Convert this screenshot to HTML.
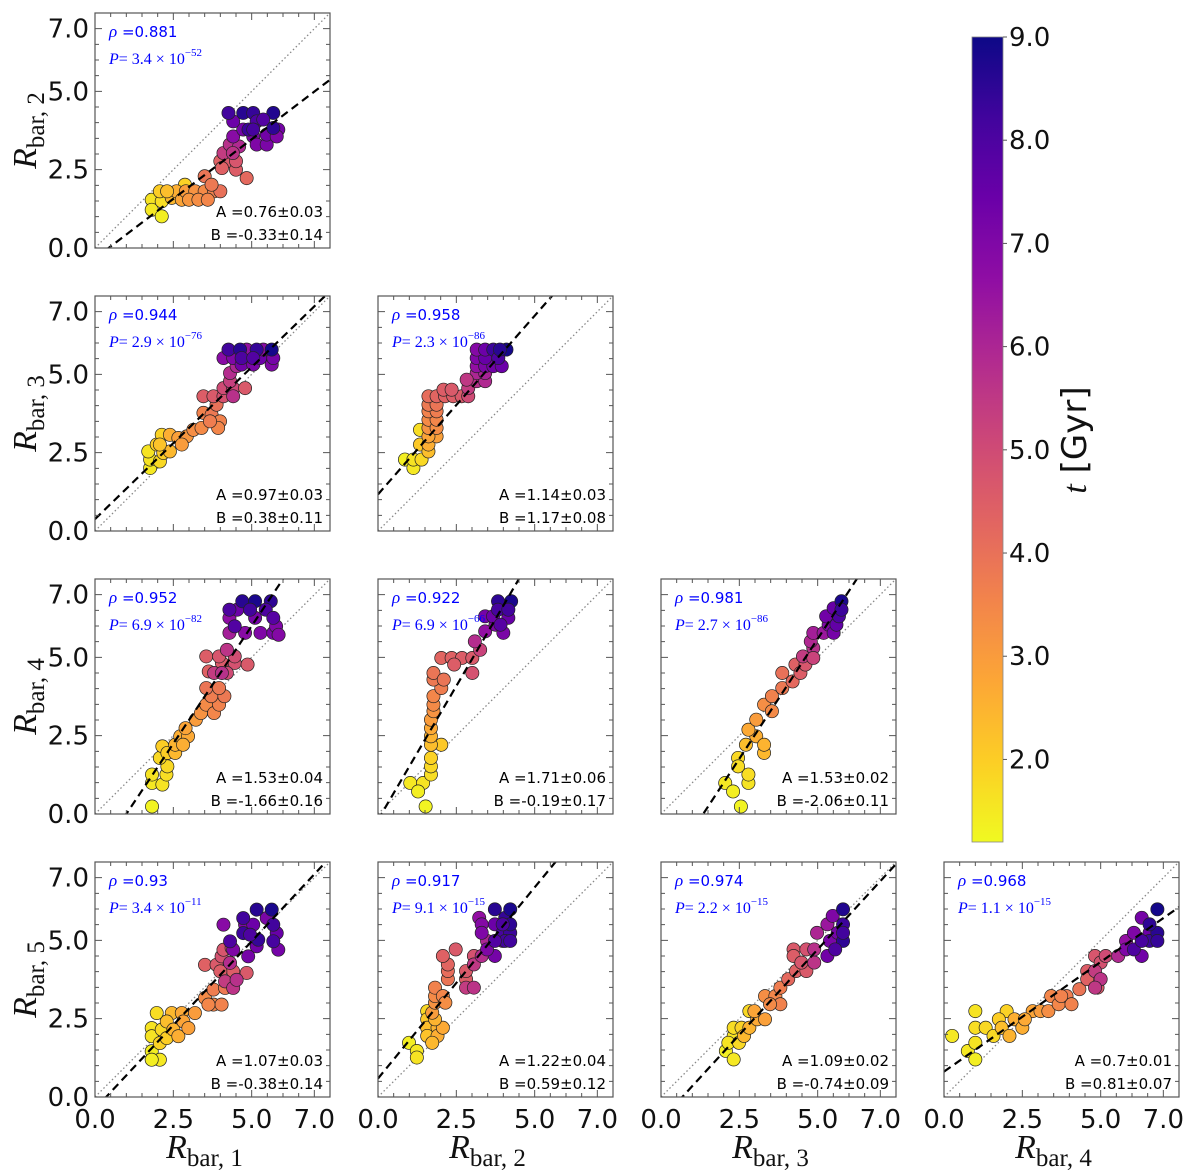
<!DOCTYPE html>
<html><head><meta charset="utf-8"><style>
html,body{margin:0;padding:0;background:#fff;}
svg{display:block;}
</style></head><body>
<svg id="fig" width="1200" height="1174" viewBox="0 0 1200 1174" xmlns="http://www.w3.org/2000/svg"></svg>
<script>
// ---- data: each point is [x, y, t(Gyr)] ----
const p_r1_r2 = [[1.81,1.54,1.6],[1.81,1.22,1.5],[2.13,1.01,1.4],[2.13,1.49,1.7],[2.07,1.81,2.0],[2.45,1.6,2.4],[2.87,2.02,1.9],[2.6,1.81,2.6],[2.77,1.54,2.8],
[2.3,1.81,2.3],[2.9,1.81,3.0],[3.2,1.81,3.2],[3.5,1.81,3.4],[3.8,1.81,3.6],[4.0,1.81,4.0],[3.0,1.54,3.1],[3.3,1.54,3.3],[3.6,1.54,3.5],
[3.5,2.29,3.9],[3.72,2.02,3.8],[4.0,2.77,4.4],[4.3,2.77,4.6],[4.05,2.55,4.4],[4.5,2.5,4.5],[4.84,2.23,4.2],[4.5,2.77,4.7],
[4.1,3.03,5.4],[4.3,3.3,5.7],[4.6,3.24,5.9],[4.4,3.03,5.6],
[4.41,3.56,6.8],[4.73,3.78,7.2],[5.05,3.56,7.1],[5.16,3.3,7.0],[5.48,3.3,7.1],[5.48,3.62,7.3],[5.85,3.78,7.2],[5.8,3.56,7.0],[4.41,4.04,7.4],
[4.26,4.31,8.2],[4.73,4.31,8.6],[5.05,4.31,8.4],[5.69,4.31,8.7],[5.16,4.04,8.0],[4.9,3.78,8.3],[5.37,4.1,7.9],[5.69,3.83,8.5],[5.05,3.78,8.1]];
const p_r1_r3 = [[1.76,2.01,1.5],[1.76,2.28,1.6],[1.70,2.54,1.6],[2.07,2.22,1.8],[1.97,2.76,2.0],[2.13,3.07,1.9],[2.18,2.49,2.0],[2.39,2.54,2.4],[2.07,2.76,2.2],
[2.39,3.07,2.6],[2.66,2.97,2.9],[2.93,3.02,3.1],[2.77,2.76,3.0],[3.14,3.23,3.3],[3.40,3.29,3.4],[3.46,3.77,3.6],[3.72,3.71,3.8],[3.99,3.50,3.6],[3.93,3.29,3.5],[3.67,3.50,3.7],[3.88,4.03,4.0],
[3.46,4.30,4.5],[3.78,4.30,4.6],[4.1,4.30,4.8],[4.1,4.56,5.0],[4.41,4.56,5.1],[4.79,4.56,4.6],[4.31,4.78,5.3],
[4.31,5.04,5.8],[4.52,5.26,6.0],[4.41,4.30,5.7],
[4.1,5.52,6.8],[4.41,5.52,7.0],[4.68,5.31,7.3],[5.05,5.31,7.1],[5.64,5.31,7.0],[5.69,5.52,7.2],[5.27,5.52,7.4],[4.84,5.79,6.6],[5.37,5.79,6.8],
[4.26,5.79,8.2],[4.63,5.79,8.6],[5.16,5.79,8.4],[5.64,5.79,8.9],[4.68,5.52,8.0],[5.05,5.52,7.9]];
const p_r2_r3 = [[0.86,2.28,1.4],[1.13,2.01,1.5],[1.13,2.28,1.6],[1.39,2.28,1.8],[1.34,3.23,1.7],
[1.34,2.76,2.1],[1.61,2.54,2.3],[1.61,2.76,2.6],[1.87,3.02,2.9],[1.61,3.02,2.8],
[1.61,3.29,3.2],[1.61,3.55,3.4],[1.87,3.29,3.3],[1.87,3.55,3.5],[1.61,3.82,3.6],[1.87,3.82,3.7],[1.61,4.03,3.8],[1.87,4.03,3.9],
[1.61,4.30,4.1],[1.87,4.30,4.3],[2.14,4.30,4.4],[2.40,4.30,4.5],[2.67,4.30,4.6],[2.09,4.51,4.5],[2.35,4.51,4.6],[2.88,4.30,5.0],
[2.88,4.56,5.4],[3.15,4.78,5.7],[3.42,4.78,5.9],[3.15,5.04,6.0],[3.42,5.04,6.1],[2.83,4.83,5.5],
[3.15,5.26,6.6],[3.15,5.52,7.0],[3.42,5.26,7.1],[3.68,5.26,7.3],[3.95,5.26,7.4],[3.42,5.52,7.5],[3.15,5.79,6.9],[3.42,5.79,7.4],
[3.68,5.79,8.3],[3.84,5.52,8.0],[4.1,5.79,8.9],[3.89,5.79,8.6]];
const p_r1_r4 = [[1.82,0.24,1.3],[1.82,0.99,1.5],[2.15,0.94,1.6],[1.82,1.26,1.6],[2.28,1.26,1.7],[2.31,1.52,1.8],[2.07,1.79,1.8],[2.15,2.16,2.0],[2.31,1.95,2.0],
[2.56,1.95,2.4],[2.56,2.21,2.5],[2.72,2.48,2.6],[2.97,2.48,2.7],[2.81,2.21,2.6],[2.89,2.74,2.8],[3.22,3.01,3.0],[3.38,3.22,3.2],
[3.55,3.49,3.4],[3.80,3.22,3.5],[3.96,3.49,3.6],[3.71,3.76,3.7],[4.13,3.76,3.8],[3.55,4.02,3.9],[3.96,4.02,3.8],
[3.63,4.55,4.4],[4.05,4.82,4.6],[4.46,4.82,4.8],[3.55,5.03,4.5],[3.96,5.03,4.7],[4.46,5.03,4.9],[4.87,4.77,4.6],[4.21,4.50,5.0],
[3.80,4.50,5.4],[4.21,5.24,5.6],[4.05,4.50,5.7],
[4.29,5.78,6.2],[4.79,5.78,6.8],[5.28,5.78,7.0],[5.69,5.78,7.1],[4.29,6.26,6.7],[5.11,6.26,7.2],[5.78,5.99,7.0],[5.86,5.72,6.9],[4.54,6.52,7.4],
[4.29,6.52,8.0],[4.70,6.79,8.6],[5.11,6.79,8.8],[5.61,6.79,8.5],[4.46,5.99,7.9],[4.95,6.52,8.2],[5.45,6.52,8.0],[5.69,6.26,7.8]];
const p_r2_r4 = [[1.52,0.24,1.3],[1.03,0.99,1.5],[1.44,0.99,1.6],[1.28,0.72,1.4],[1.69,1.26,1.7],[1.69,1.52,1.8],[1.69,1.79,1.9],[2.02,2.21,2.1],
[1.69,2.21,2.3],[1.69,2.48,2.5],[1.69,2.74,2.7],[1.69,3.01,3.0],
[1.77,3.28,3.2],[1.77,3.49,3.4],[1.77,3.76,3.5],[2.02,4.02,3.7],[1.77,4.29,3.8],[1.77,4.50,3.9],[2.10,4.29,3.9],
[2.02,4.98,4.3],[2.35,4.98,4.4],[2.68,4.98,4.5],[3.01,4.98,4.6],[2.43,4.77,4.5],[3.01,4.50,4.8],[3.26,5.24,5.2],
[3.09,5.51,5.8],[3.42,5.83,6.6],[3.75,6.04,7.0],[3.42,6.31,7.2],[4.0,5.78,7.1],[3.67,6.31,7.4],[4.16,6.26,7.5],
[3.83,6.79,8.5],[4.25,6.79,8.8],[3.83,6.52,8.1],[4.16,6.52,8.2],[3.91,6.04,7.8]];
const p_r3_r4 = [[2.55,0.24,1.3],[2.05,0.99,1.5],[2.30,0.72,1.4],[2.79,0.99,1.6],[2.79,1.26,1.7],[2.46,1.79,1.8],[2.46,1.52,1.7],
[2.71,2.21,2.3],[3.04,2.48,2.6],[3.29,1.95,2.4],[3.29,2.21,2.5],[2.79,2.69,2.7],
[3.04,3.01,3.0],[3.29,3.49,3.3],[3.54,3.28,3.4],[3.54,3.76,3.6],[3.87,4.02,3.8],[3.87,4.50,4.0],
[4.29,4.77,4.4],[4.20,4.23,4.2],[4.45,4.50,4.5],[4.61,4.77,4.7],
[4.53,5.03,5.4],[4.86,5.30,5.7],[4.78,5.51,5.9],[4.86,5.78,6.2],[5.19,5.78,6.4],[4.86,4.98,5.2],
[5.35,6.04,7.0],[5.51,5.78,7.2],[5.27,6.31,7.3],[5.51,6.57,7.5],[5.60,6.04,7.6],
[5.76,6.79,8.8],[5.68,6.31,8.0],[5.76,6.52,8.3]];
const p_r1_r5 = [[1.81,1.46,1.4],[2.07,1.19,1.5],[1.81,1.19,1.4],[1.81,2.20,1.6],[1.97,2.68,1.7],[1.81,1.94,1.6],[2.13,2.15,1.8],[2.07,1.72,1.9],[2.29,1.88,2.0],
[2.45,2.68,2.4],[2.29,2.41,2.3],[2.50,2.15,2.5],[2.66,1.94,2.6],[2.77,2.68,2.7],[2.82,2.41,2.8],[2.98,2.20,2.9],[3.19,2.68,3.0],
[3.51,3.16,3.4],[3.78,2.95,3.5],[4.04,2.95,3.6],[3.78,3.43,3.7],[4.15,3.48,3.8],[3.62,2.95,3.5],
[3.51,4.22,4.4],[3.88,4.22,4.6],[4.04,4.49,4.8],[4.10,4.70,4.7],[4.41,4.01,4.5],[4.84,3.96,4.6],[4.36,4.76,4.9],[4.0,4.01,4.5],
[4.15,3.69,5.4],[4.41,3.48,5.6],[4.31,4.28,5.8],[4.52,3.74,5.7],
[4.10,5.50,6.8],[4.79,5.50,7.0],[4.89,4.49,7.2],[5.16,4.81,7.3],[5.48,5.71,7.1],[5.85,4.70,7.2],[5.05,5.50,7.4],[5.80,5.23,7.5],[4.41,4.70,7.0],
[4.73,5.71,8.2],[5.16,5.98,8.6],[5.64,5.98,8.8],[4.31,4.97,8.0],[4.73,5.23,8.3],[5.21,5.02,8.4],[5.69,5.50,8.2],[5.69,4.97,8.1],[4.95,5.18,8.0]];
const p_r2_r5 = [[0.99,1.73,1.4],[1.24,1.47,1.5],[1.24,1.26,1.6],[1.57,2.74,1.8],
[1.57,2.48,2.1],[1.57,2.21,2.3],[1.57,1.95,2.2],[1.90,2.21,2.5],[1.90,1.95,2.6],[1.73,1.73,2.4],[2.07,2.21,2.7],[1.82,2.48,2.5],
[1.73,2.69,3.0],[1.82,3.01,3.2],[1.82,3.22,3.4],[1.82,3.49,3.6],[2.07,3.22,3.5],[2.15,3.01,3.3],
[2.23,3.76,3.9],[2.23,4.02,4.1],[2.23,4.23,4.3],[2.07,4.50,4.4],[2.48,4.71,4.6],[2.81,3.76,4.5],[2.81,4.02,4.6],[3.06,4.50,4.8],
[2.81,3.49,5.4],[3.06,3.49,5.6],[3.06,4.23,5.5],[3.31,4.50,5.8],[3.48,4.98,6.0],
[3.23,5.72,6.6],[3.31,5.51,6.9],[3.31,5.24,7.0],[3.73,4.50,7.2],[3.48,4.71,7.0],[3.73,5.51,7.4],[3.98,4.98,7.5],
[3.73,5.99,8.6],[4.06,5.72,8.4],[4.22,5.99,8.8],[3.98,5.24,8.1],[4.22,5.24,8.3],[4.22,5.51,8.5],[3.98,5.51,8.0],[4.06,4.98,8.2],[3.73,4.98,7.9],[4.22,4.98,8.2]];
const p_r3_r5 = [[2.07,1.47,1.4],[2.32,1.20,1.5],[2.32,1.95,1.6],[2.32,2.21,1.7],[2.57,2.21,1.9],[2.82,2.74,1.8],[2.15,1.73,1.6],[2.49,1.73,1.8],
[2.65,1.95,2.4],[2.82,2.21,2.5],[3.07,2.48,2.7],[3.32,2.48,2.9],[2.98,2.74,2.8],
[3.32,3.22,3.3],[3.65,3.22,3.5],[3.81,2.96,3.6],[3.81,3.49,3.7],[3.48,2.96,3.4],
[4.06,3.76,4.2],[4.31,4.02,4.4],[4.23,4.71,4.6],[4.23,4.50,4.5],[4.64,4.71,4.8],[4.64,4.02,4.6],[4.48,4.29,4.7],
[4.89,4.29,5.6],[4.89,4.71,5.7],[4.98,5.24,6.0],[5.31,5.51,6.4],
[5.39,4.98,7.1],[5.31,4.50,7.3],[5.64,5.24,7.2],[5.48,5.78,7.0],
[5.81,5.99,8.7],[5.81,5.51,8.3],[5.81,4.98,8.5],[5.56,4.71,8.0],[5.81,5.24,8.2]];
const p_r4_r5 = [[0.26,1.95,1.5],[1.0,2.74,1.6],[0.76,1.47,1.5],[1.0,1.73,1.6],[1.0,1.20,1.4],[1.0,2.21,1.7],[1.33,2.21,1.8],[1.58,1.95,1.8],[2.0,2.74,1.9],[1.75,2.48,2.0],
[1.84,2.21,2.3],[2.09,1.95,2.5],[2.25,2.48,2.6],[2.50,2.21,2.6],[2.83,2.74,2.8],[2.58,2.48,2.7],[3.08,2.74,3.0],
[3.33,2.74,3.3],[3.42,3.22,3.5],[3.66,2.96,3.5],[3.91,3.22,3.7],[4.07,2.96,3.6],[4.32,3.44,3.9],[3.74,3.22,3.6],
[4.57,4.02,4.5],[4.57,3.76,4.4],[4.82,4.50,4.7],[4.90,3.49,4.6],[5.0,4.29,4.8],[5.16,4.50,5.0],
[4.82,4.02,5.4],[5.0,3.76,5.6],[4.82,3.49,5.5],[5.56,4.50,5.9],
[5.81,4.98,6.6],[6.06,5.24,7.0],[6.31,5.72,7.2],[5.81,4.71,7.0],[6.31,4.50,7.3],[6.56,5.24,7.4],
[6.06,4.71,8.0],[6.56,4.98,8.3],[6.81,5.24,8.6],[6.81,5.99,8.9],[6.56,5.51,8.5],[6.31,4.98,8.1],[6.81,4.98,8.4]];

const panelData = [p_r1_r2, p_r1_r3, p_r2_r3, p_r1_r4, p_r2_r4, p_r3_r4, p_r1_r5, p_r2_r5, p_r3_r5, p_r4_r5];
const panelRow = [0,1,1,2,2,2,3,3,3,3];
const panelCol = [0,0,1,0,1,2,0,1,2,3];
const fitSlope = [0.76,0.97,1.14,1.50,1.71,1.53,1.07,1.22,1.09,0.70];
const fitIntercept = [-0.33,0.38,1.17,-1.50,-0.19,-2.06,-0.38,0.59,-0.74,0.81];
const rhoLabels = ['0.881','0.944','0.958','0.952','0.922','0.981','0.93','0.917','0.974','0.968'];
const pMantissa = ['3.4','2.9','2.3','6.9','6.9','2.7','3.4','9.1','2.2','1.1'];
const pExponent = ['−52','−76','−86','−82','−66','−86','−11','−15','−15','−15'];
const aLabels = ['0.76±0.03','0.97±0.03','1.14±0.03','1.53±0.04','1.71±0.06','1.53±0.02','1.07±0.03','1.22±0.04','1.09±0.02','0.7±0.01'];
const bLabels = ['-0.33±0.14','0.38±0.11','1.17±0.08','-1.66±0.16','-0.19±0.17','-2.06±0.11','-0.38±0.14','0.59±0.12','-0.74±0.09','0.81±0.07'];
const tickValues = [0, 2.5, 5.0, 7.0];
const tickLabels = ['0.0','2.5','5.0','7.0'];
const rowLabelIdx = ['2','3','4','5'];
const colLabelIdx = ['1','2','3','4'];
const cbarTicks = [2,3,4,5,6,7,8,9];
const cbarTickLabels = ['2.0','3.0','4.0','5.0','6.0','7.0','8.0','9.0'];

const NS='http://www.w3.org/2000/svg';
const svg=document.getElementById('fig');
const colLeft=[95,378,661,944], rowTop=[13,296,579,862], SIZE=235, VMAX=7.5;
const TMIN=1.2, TMAX=9.0;
function mk(tag,attrs,parent){const e=document.createElementNS(NS,tag);for(const k in attrs)e.setAttribute(k,attrs[k]);(parent||svg).appendChild(e);return e;}
const plasma=['#0d0887','#41049d','#6a00a8','#8f0da4','#b12a90','#cc4778','#e16462','#f2844b','#fca636','#fcce25','#f0f921'];
function hex(h){return [parseInt(h.substr(1,2),16),parseInt(h.substr(3,2),16),parseInt(h.substr(5,2),16)];}
function cmap(t){let f=(TMAX-t)/(TMAX-TMIN);f=Math.max(0,Math.min(1,f))*10;const i=Math.min(9,Math.floor(f)),r=f-i;const a=hex(plasma[i]),b=hex(plasma[i+1]);return 'rgb('+a.map((v,k)=>Math.round(v+(b[k]-v)*r)).join(',')+')';}

const defs=mk('defs',{});
panelData.forEach((pts,i)=>{
  const L=colLeft[panelCol[i]], T=rowTop[panelRow[i]];
  const sx=v=>L+v*SIZE/VMAX, sy=v=>T+SIZE-v*SIZE/VMAX;
  const g=mk('g',{});
  
  
  const cp=mk('clipPath',{id:'clip'+i},defs);
  mk('rect',{x:L,y:T,width:SIZE,height:SIZE},cp);
  const inner=mk('g',{'clip-path':'url(#clip'+i+')'},g);
  const one=mk('line',{x1:sx(0),y1:sy(0),x2:sx(VMAX),y2:sy(VMAX),stroke:'#888','stroke-width':1.3,'stroke-dasharray':'1.5,2.5'},inner);
  
  
  pts.forEach(p=>{
    const c=mk('circle',{cx:sx(p[0]),cy:sy(p[1]),r:6.6,fill:cmap(p[2]),stroke:'#222','stroke-width':0.7},inner);
    
    
  });
  const fl=mk('line',{x1:sx(0),y1:sy(fitIntercept[i]),x2:sx(VMAX),y2:sy(fitSlope[i]*VMAX+fitIntercept[i]),stroke:'#000','stroke-width':2.2,'stroke-dasharray':'8,5'},inner);
  
  
  const fr=mk('rect',{x:L,y:T,width:SIZE,height:SIZE,fill:'none',stroke:'#555','stroke-width':1.2},g);
  
  
  let d='';
  for(let v=0.5;v<VMAX;v+=0.5){
    const major=tickValues.indexOf(v)>=0, len=major?7:4;
    d+='M'+L+','+sy(v)+'h'+len+'M'+(L+SIZE)+','+sy(v)+'h'+(-len);
    d+='M'+sx(v)+','+(T+SIZE)+'v'+(-len)+'M'+sx(v)+','+T+'v'+len;
  }
  const tk=mk('path',{d:d,stroke:'#555','stroke-width':1,fill:'none'},g);
  
  
  const rho=mk('text',{x:L+14,y:T+24,fill:'#0000ff','font-family':'"DejaVu Sans",sans-serif','font-size':15},g);
  
  
  rho.innerHTML='<tspan font-family="Liberation Serif,serif" font-style="italic" font-size="17">ρ</tspan> ='+rhoLabels[i];
  const pl=mk('text',{x:L+14,y:T+51,fill:'#0000ff','font-family':'"Liberation Serif",serif','font-size':16},g);
  
  
  pl.innerHTML='<tspan font-style="italic">P</tspan>= '+pMantissa[i]+' × 10<tspan dy="-8" font-size="11">'+pExponent[i]+'</tspan>';
  const al=mk('text',{x:L+SIZE-7,y:T+SIZE-31,'text-anchor':'end',fill:'#000','font-family':'"DejaVu Sans",sans-serif','font-size':15},g);
  
  
  al.textContent='A ='+aLabels[i];
  const bl=mk('text',{x:L+SIZE-7,y:T+SIZE-8,'text-anchor':'end',fill:'#000','font-family':'"DejaVu Sans",sans-serif','font-size':15},g);
  
  
  bl.textContent='B ='+bLabels[i];
});

rowTop.forEach((T,r)=>{
  tickValues.forEach((v,k)=>{
    const t=mk('text',{x:89,y:T+SIZE-v*SIZE/VMAX+9,'text-anchor':'end','font-family':'"DejaVu Sans",sans-serif','font-size':26,fill:'#111'});
    
    
    t.textContent=tickLabels[k];
  });
  const yt=mk('text',{transform:'translate(36,'+(T+SIZE/2)+') rotate(-90)','text-anchor':'middle','font-family':'"Liberation Serif",serif','font-size':34,fill:'#111'});
  
  
  yt.innerHTML='<tspan font-style="italic">R</tspan><tspan dy="8" font-size="25">bar, '+rowLabelIdx[r]+'</tspan>';
});
colLeft.forEach((L,c)=>{
  tickValues.forEach((v,k)=>{
    const t=mk('text',{x:L+v*SIZE/VMAX,y:1128,'text-anchor':'middle','font-family':'"DejaVu Sans",sans-serif','font-size':26,fill:'#111'});
    
    
    t.textContent=tickLabels[k];
  });
  const xt=mk('text',{x:L+SIZE/2-8,y:1158,'text-anchor':'middle','font-family':'"Liberation Serif",serif','font-size':34,fill:'#111'});
  
  
  xt.innerHTML='<tspan font-style="italic">R</tspan><tspan dy="8" font-size="25">bar, '+colLabelIdx[c]+'</tspan>';
});

const CBX=972, CBW=31, CBT=37, CBB=842;
const cbY=t=>CBB-(t-TMIN)/(TMAX-TMIN)*(CBB-CBT);
const grad=mk('linearGradient',{id:'cbgrad',x1:0,y1:1,x2:0,y2:0},defs);
for(let k=0;k<=20;k++){const t=TMIN+(TMAX-TMIN)*k/20;mk('stop',{offset:(k/20),'stop-color':cmap(t)},grad);}
const cb=mk('rect',{x:CBX,y:CBT,width:CBW,height:CBB-CBT,fill:'url(#cbgrad)',stroke:'#888','stroke-width':0.8});


cbarTicks.forEach((v,k)=>{
  const y=cbY(v);
  const tl=mk('line',{x1:CBX+CBW,y1:y,x2:CBX+CBW+4,y2:y,stroke:'#555','stroke-width':1});
  
  
  const t=mk('text',{x:CBX+CBW+6,y:y+9,'font-family':'"DejaVu Sans",sans-serif','font-size':26,fill:'#111'});
  
  
  t.textContent=cbarTickLabels[k];
});
const cbt=mk('text',{transform:'translate(1086,440) rotate(-90)','text-anchor':'middle','font-family':'"DejaVu Sans",sans-serif','font-size':34,fill:'#111'});


cbt.innerHTML='<tspan font-family="Liberation Serif,serif" font-style="italic">t</tspan> [Gyr]';
</script>
</body></html>
